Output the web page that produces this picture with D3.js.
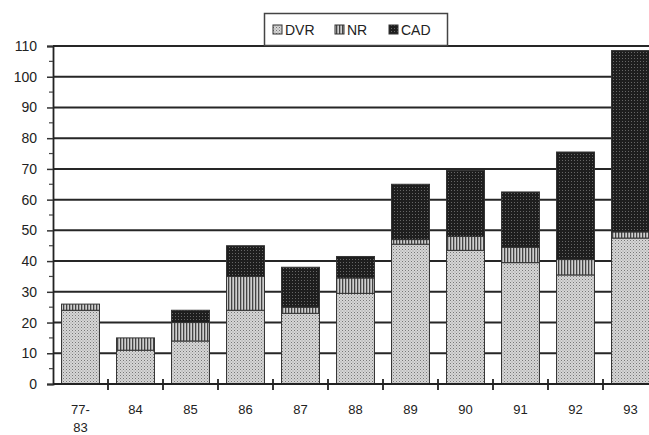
<!DOCTYPE html>
<html><head><meta charset="utf-8">
<script src="https://cdn.jsdelivr.net/npm/d3@7"></script>
<style>body{margin:0;background:#fff}svg{display:block}</style>
</head><body>
<svg id="c" width="649" height="435"></svg>
<script>
const categories = ["77-83","84","85","86","87","88","89","90","91","92","93"];
const seriesNames = ["DVR","NR","CAD"];
const dvr = [24, 11, 14, 24, 23, 29.5, 45.5, 43.5, 39.5, 35.5, 47.5];
const nr  = [2, 4, 6, 11, 2, 5, 1.5, 4.5, 5, 5, 2];
const cad = [0, 0, 4, 10, 13, 7, 18, 21.5, 18, 35, 59];
const yTicks = [0,10,20,30,40,50,60,70,80,90,100,110];

const svg = d3.select("#c");
const font = "'Liberation Sans', Arial, sans-serif";
const defs = svg.append("defs");
const p1 = defs.append("pattern").attr("id","pDVR").attr("patternUnits","userSpaceOnUse").attr("width",3).attr("height",3);
p1.append("rect").attr("width",3).attr("height",3).attr("fill","#d6d6d6");
p1.append("rect").attr("x",0).attr("y",0).attr("width",1).attr("height",1).attr("fill","#777");
p1.append("rect").attr("x",1.5).attr("y",1.5).attr("width",1).attr("height",1).attr("fill","#999");
const p2 = defs.append("pattern").attr("id","pNR").attr("patternUnits","userSpaceOnUse").attr("width",3).attr("height",3);
p2.append("rect").attr("width",3).attr("height",3).attr("fill","#cfcfcf");
p2.append("rect").attr("x",0).attr("y",0).attr("width",1.3).attr("height",3).attr("fill","#444");
const p3 = defs.append("pattern").attr("id","pCAD").attr("patternUnits","userSpaceOnUse").attr("width",3).attr("height",3);
p3.append("rect").attr("width",3).attr("height",3).attr("fill","#1e1e1e");
p3.append("rect").attr("x",1).attr("y",1).attr("width",1).attr("height",1).attr("fill","#666");
const fills = {DVR:"url(#pDVR)", NR:"url(#pNR)", CAD:"url(#pCAD)"};

const x = d3.scaleBand().domain(categories).range([53, 658]).paddingInner(0.31).paddingOuter(0.155);
const y = d3.scaleLinear().domain([0,110]).range([384, 46]);

// gridlines
const gridG = svg.append("g").attr("id","grid");
gridG.selectAll("line").data(yTicks.filter(d=>d>0)).join("line")
  .attr("x1",53).attr("x2",649).attr("y1",d=>y(d)).attr("y2",d=>y(d))
  .attr("stroke","#262626").attr("stroke-width",2);

// bars
const table = categories.map((c,i)=>({cat:c, DVR:dvr[i], NR:nr[i], CAD:cad[i]}));
const stack = d3.stack().keys(seriesNames)(table);
const barG = svg.append("g").attr("id","bars");
barG.selectAll("g").data(stack).join("g")
  .attr("fill", d=>fills[d.key])
  .selectAll("rect").data(d=>d.filter(s=>s[1]-s[0]>0)).join("rect")
  .attr("x", d=>x(d.data.cat)).attr("width", x.bandwidth())
  .attr("y", d=>y(d[1])).attr("height", d=>y(d[0])-y(d[1]))
  .attr("stroke","#333").attr("stroke-width",1);

// y axis
const yAxis = d3.axisLeft(y).tickValues(yTicks).tickSize(6).tickPadding(10).tickFormat(d3.format("d"));
const ga = svg.append("g").attr("transform","translate(53,0)").call(yAxis);
ga.select(".domain").attr("stroke","#222").attr("stroke-width",1.8);
ga.selectAll(".tick line").attr("stroke","#333").attr("stroke-width",1.5);
ga.selectAll("text").attr("font-family",font).attr("font-size",14).attr("fill","#222");
// minor ticks
svg.append("g").selectAll("line").data(d3.range(5,110,10)).join("line")
  .attr("x1",49).attr("x2",53).attr("y1",d=>y(d)).attr("y2",d=>y(d))
  .attr("stroke","#444").attr("stroke-width",1.2);

// x axis
svg.append("line").attr("x1",53).attr("x2",649).attr("y1",y(0)).attr("y2",y(0))
  .attr("stroke","#222").attr("stroke-width",2);
const bounds = categories.slice(1).map(c => x(c) - x.step()*x.paddingInner()/2);
svg.append("g").selectAll("line").data(bounds).join("line")
  .attr("x1",d=>d).attr("x2",d=>d).attr("y1",y(0)-5).attr("y2",y(0)+6)
  .attr("stroke","#222").attr("stroke-width",1.8);

const xl = svg.append("g").selectAll("text").data(categories).join("text")
  .attr("x", d=>x(d)+x.bandwidth()/2).attr("y", 414)
  .attr("text-anchor","middle").attr("font-family",font).attr("font-size",13).attr("fill","#222");
xl.each(function(d){
  const parts = d.includes("-") ? [d.split("-")[0]+"-", d.split("-")[1]] : [d];
  d3.select(this).selectAll("tspan").data(parts).join("tspan")
    .attr("x", x(d)+x.bandwidth()/2).attr("dy",(p,i)=> i===0?0:18).text(p=>p);
});

// legend
const lg = svg.append("g");
lg.append("rect").attr("x",264.5).attr("y",13.5).attr("width",183).attr("height",32)
  .attr("fill","#fff").attr("stroke","#444").attr("stroke-width",1.5);
const lx = [273, 335, 389];
seriesNames.forEach((s,i)=>{
  lg.append("rect").attr("x",lx[i]).attr("y",25).attr("width",9).attr("height",9)
    .attr("fill",fills[s]).attr("stroke","#333").attr("stroke-width",1);
  lg.append("text").attr("x",lx[i]+12).attr("y",35).attr("font-family",font).attr("font-size",14)
    .attr("fill","#222").text(s);
});
</script>
</body></html>
